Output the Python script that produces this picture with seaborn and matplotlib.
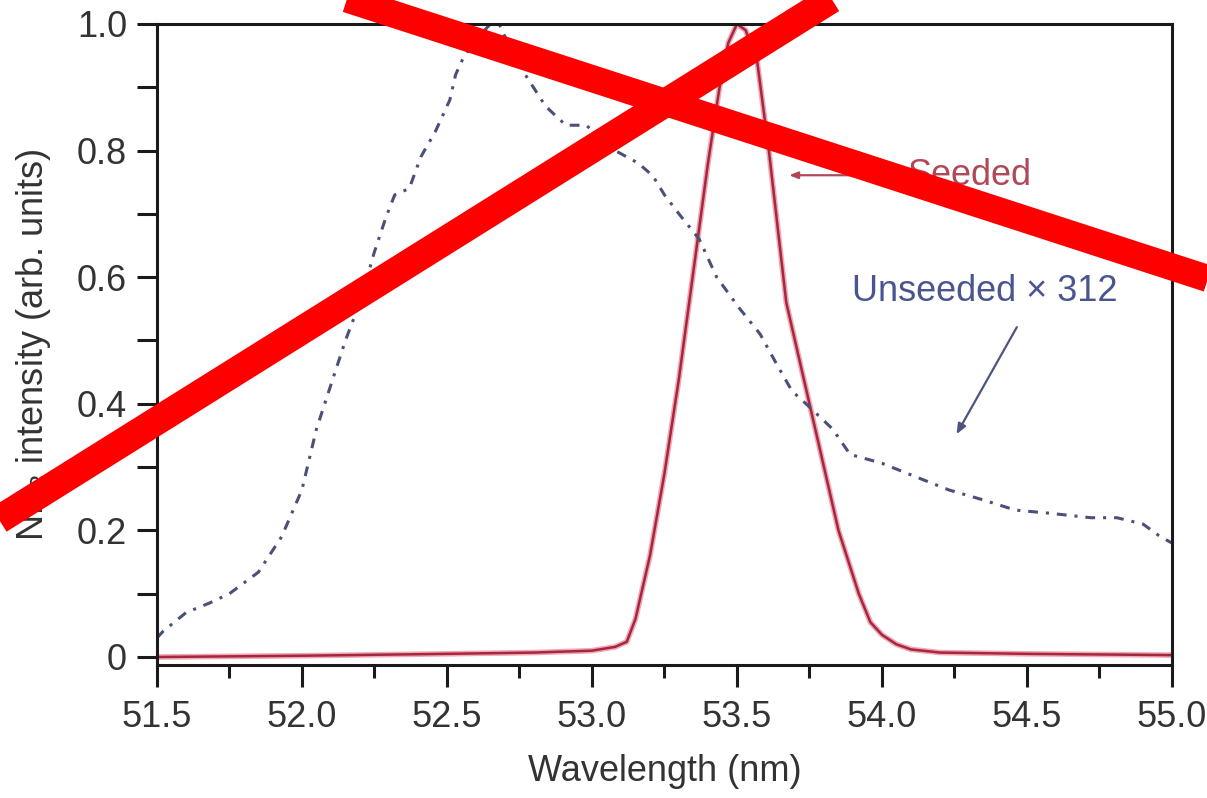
import numpy as np
import pandas as pd
import seaborn as sns
import matplotlib.pyplot as plt
from matplotlib.lines import Line2D
from matplotlib.ticker import MultipleLocator, FixedLocator, FuncFormatter

# Seeded FEL spectrum (normalised)
seeded_wl = [51.5, 52.0, 52.5, 52.8, 53.0, 53.08, 53.12, 53.15, 53.2, 53.25,
             53.3, 53.35, 53.4, 53.44, 53.47, 53.5, 53.53, 53.57, 53.61, 53.67,
             53.75, 53.85, 53.92, 53.96, 54.0, 54.05, 54.1, 54.2, 54.5, 55.0]
seeded_int = [0.0, 0.002, 0.005, 0.007, 0.01, 0.016, 0.024, 0.06, 0.16, 0.29,
              0.44, 0.61, 0.78, 0.90, 0.97, 1.0, 0.99, 0.94, 0.80, 0.56,
              0.40, 0.20, 0.10, 0.055, 0.035, 0.02, 0.012, 0.007, 0.005, 0.003]

# Unseeded (SASE) spectrum, scaled by 312
unseeded_wl = [51.50, 51.52, 51.60, 51.68, 51.75, 51.85, 51.93, 52.00, 52.05, 52.10,
               52.15, 52.20, 52.25, 52.29, 52.32, 52.37, 52.41, 52.46, 52.51, 52.53,
               52.56, 52.60, 52.65, 52.68, 52.72, 52.77, 52.84, 52.91, 52.98, 53.08,
               53.16, 53.21, 53.25, 53.30, 53.37, 53.43, 53.51, 53.58, 53.64, 53.69,
               53.75, 53.83, 53.89, 54.00, 54.12, 54.23, 54.35, 54.46, 54.58, 54.72,
               54.81, 54.90, 54.96, 55.00]
unseeded_int = [0.03, 0.04, 0.07, 0.085, 0.10, 0.134, 0.19, 0.264, 0.36, 0.43,
                0.50, 0.56, 0.64, 0.695, 0.73, 0.74, 0.79, 0.83, 0.88, 0.92,
                0.95, 0.975, 1.0, 1.0, 0.96, 0.92, 0.87, 0.84, 0.84, 0.80,
                0.78, 0.76, 0.73, 0.70, 0.66, 0.60, 0.55, 0.51, 0.46, 0.42,
                0.395, 0.36, 0.32, 0.306, 0.284, 0.264, 0.248, 0.232, 0.227, 0.22,
                0.22, 0.21, 0.19, 0.18]

x_ticks = [51.5, 52.0, 52.5, 53.0, 53.5, 54.0, 54.5, 55.0]
y_ticks = [0, 0.2, 0.4, 0.6, 0.8, 1.0]

seeded_df = pd.DataFrame({"wl": seeded_wl, "I": seeded_int})
unseeded_df = pd.DataFrame({"wl": unseeded_wl, "I": unseeded_int})

sns.set_style("ticks")
plt.rcParams["font.family"] = ["Liberation Sans", "DejaVu Sans"]
plt.rcParams["text.color"] = "#333333"
plt.rcParams["mathtext.fontset"] = "custom"
plt.rcParams["mathtext.rm"] = "Liberation Sans"

fig = plt.figure(figsize=(12.07, 7.98), dpi=100)
ax = fig.add_axes([0.130, 0.1667, 0.841, 0.8033])

seeded_col = "#a3283e"
unseeded_col = "#4a5078"

# soft halo under the seeded trace
sns.lineplot(data=seeded_df, x="wl", y="I", ax=ax, color="#f3a6b4", lw=4.0,
             estimator=None, sort=False)
sns.lineplot(data=seeded_df, x="wl", y="I", ax=ax, color=seeded_col, lw=1.8,
             estimator=None, sort=False)
sns.lineplot(data=unseeded_df, x="wl", y="I", ax=ax, color=unseeded_col, lw=2.2,
             estimator=None, sort=False, linestyle=(0, (3.2, 2.6, 1.0, 2.6)))

ax.set_xlim(51.5, 55.0)
ax.set_ylim(-0.0126, 1.0)

ax.xaxis.set_major_locator(FixedLocator(x_ticks))
ax.xaxis.set_minor_locator(MultipleLocator(0.25))
ax.xaxis.set_major_formatter(FuncFormatter(lambda v, p: f"{v:.1f}"))
ax.yaxis.set_major_locator(FixedLocator(y_ticks))
ax.yaxis.set_minor_locator(MultipleLocator(0.1))
ax.yaxis.set_major_formatter(FuncFormatter(lambda v, p: "0" if abs(v) < 1e-9 else f"{v:.1f}"))

for side in ["left", "right", "top", "bottom"]:
    ax.spines[side].set_visible(True)
    ax.spines[side].set_linewidth(2.2)
    ax.spines[side].set_color("#1a1a1a")

ax.tick_params(axis="x", which="major", direction="out", length=16, width=2.2,
               color="#1a1a1a", labelsize=26, pad=9, labelcolor="#333333")
ax.tick_params(axis="x", which="minor", direction="out", length=9.5, width=2.2,
               color="#1a1a1a")
ax.tick_params(axis="y", which="both", direction="out", length=14.5, width=2.2,
               color="#1a1a1a", labelsize=26, pad=7, labelcolor="#333333")
ax.tick_params(top=False, right=False, which="both")

ax.set_xlabel("Wavelength (nm)", fontsize=26, labelpad=14, color="#333333")
ax.set_ylabel(r"NH$_3$ intensity (arb. units)", fontsize=26, labelpad=17, color="#333333")

# annotations
ax.annotate("", xy=(53.68, 0.761), xytext=(53.98, 0.761),
            arrowprops=dict(arrowstyle="-|>,head_length=0.5,head_width=0.2",
                            color="#b04858", lw=1.6, shrinkA=0, shrinkB=0))
ax.text(54.302, 0.761, "Seeded", color="#b04858", fontsize=26, ha="center", va="center")

ax.annotate("", xy=(54.257, 0.352), xytext=(54.465, 0.521),
            arrowprops=dict(arrowstyle="-|>,head_length=0.6,head_width=0.25",
                            color="#4c5480", lw=1.6, shrinkA=0, shrinkB=0))
ax.text(54.355, 0.577, "Unseeded \u00d7 312", color="#4a5590", fontsize=26,
        ha="center", va="center")

# big red cross over the figure
W, H = 1207.0, 798.0
def fpt(px, py):
    return px / W, 1 - py / H

for (x0, y0), (x1, y1), w in [((280, -22.75), (1240, 289.0), 19.5),
                              ((-30, 537.75), (870, -25.0), 20.5)]:
    a = fpt(x0, y0)
    b = fpt(x1, y1)
    fig.add_artist(Line2D([a[0], b[0]], [a[1], b[1]], transform=fig.transFigure,
                          color="#ff0000", lw=w, solid_capstyle="butt", zorder=10))

fig.savefig("out.png", dpi=100)
